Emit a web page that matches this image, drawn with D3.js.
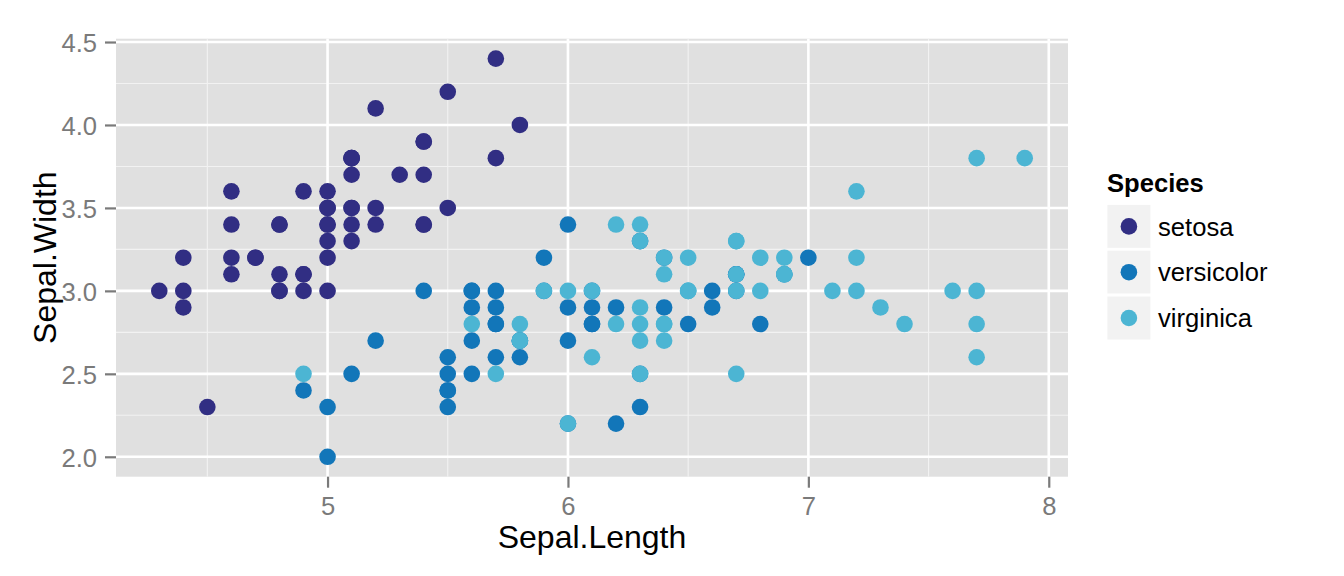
<!DOCTYPE html>
<html>
<head>
<meta charset="utf-8">
<script src="https://cdn.jsdelivr.net/npm/d3@7"></script>
<style>
  html, body { margin: 0; padding: 0; background: #ffffff; }
  svg { display: block; font-family: "Liberation Sans", Arial, Helvetica, sans-serif; }
</style>
</head>
<body>
<svg id="chart" width="1344" height="576"></svg>
<script>
// ---- Data (iris: Sepal.Length / Sepal.Width) ----
const species = ["setosa", "versicolor", "virginica"];
const speciesColors = ["#312E83", "#1276B9", "#4CB5D3"];

const setosaLength = [5.1,4.9,4.7,4.6,5.0,5.4,4.6,5.0,4.4,4.9,5.4,4.8,4.8,4.3,5.8,5.7,5.4,5.1,5.7,5.1,5.4,5.1,4.6,5.1,4.8,5.0,5.0,5.2,5.2,4.7,4.8,5.4,5.2,5.5,4.9,5.0,5.5,4.9,4.4,5.1,5.0,4.5,4.4,5.0,5.1,4.8,5.1,4.6,5.3,5.0];
const setosaWidth  = [3.5,3.0,3.2,3.1,3.6,3.9,3.4,3.4,2.9,3.1,3.7,3.4,3.0,3.0,4.0,4.4,3.9,3.5,3.8,3.8,3.4,3.7,3.6,3.3,3.4,3.0,3.4,3.5,3.4,3.2,3.1,3.4,4.1,4.2,3.1,3.2,3.5,3.6,3.0,3.4,3.5,2.3,3.2,3.5,3.8,3.0,3.8,3.2,3.7,3.3];

const versicolorLength = [7.0,6.4,6.9,5.5,6.5,5.7,6.3,4.9,6.6,5.2,5.0,5.9,6.0,6.1,5.6,6.7,5.6,5.8,6.2,5.6,5.9,6.1,6.3,6.1,6.4,6.6,6.8,6.7,6.0,5.7,5.5,5.5,5.8,6.0,5.4,6.0,6.7,6.3,5.6,5.5,5.5,6.1,5.8,5.0,5.6,5.7,5.7,6.2,5.1,5.7];
const versicolorWidth  = [3.2,3.2,3.1,2.3,2.8,2.8,3.3,2.4,2.9,2.7,2.0,3.0,2.2,2.9,2.9,3.1,3.0,2.7,2.2,2.5,3.2,2.8,2.5,2.8,2.9,3.0,2.8,3.0,2.9,2.6,2.4,2.4,2.7,2.7,3.0,3.4,3.1,2.3,3.0,2.5,2.6,3.0,2.6,2.3,2.7,3.0,2.9,2.9,2.5,2.8];

const virginicaLength = [6.3,5.8,7.1,6.3,6.5,7.6,4.9,7.3,6.7,7.2,6.5,6.4,6.8,5.7,5.8,6.4,6.5,7.7,7.7,6.0,6.9,5.6,7.7,6.3,6.7,7.2,6.2,6.1,6.4,7.2,7.4,7.9,6.4,6.3,6.1,7.7,6.3,6.4,6.0,6.9,6.7,6.9,5.8,6.8,6.7,6.7,6.3,6.5,6.2,5.9];
const virginicaWidth  = [3.3,2.7,3.0,2.9,3.0,3.0,2.5,2.9,2.5,3.6,3.2,2.7,3.0,2.5,2.8,3.2,3.0,3.8,2.6,2.2,3.2,2.8,2.8,2.7,3.3,3.2,2.8,3.0,2.8,3.0,2.8,3.8,2.8,2.8,2.6,3.0,3.4,3.1,3.0,3.1,3.1,3.1,2.7,3.2,3.3,3.0,2.5,3.0,3.4,3.0];

const xTicks = [5, 6, 7, 8];
const xMinorTicks = [4.5, 5.5, 6.5, 7.5];
const yTicks = [2.0, 2.5, 3.0, 3.5, 4.0, 4.5];
const yMinorTicks = [2.25, 2.75, 3.25, 3.75, 4.25];
const xTitle = "Sepal.Length";
const yTitle = "Sepal.Width";
const legendTitle = "Species";

// ---- Build table ----
const lengths = [setosaLength, versicolorLength, virginicaLength];
const widths = [setosaWidth, versicolorWidth, virginicaWidth];
const points = [];
species.forEach((s, i) => {
  lengths[i].forEach((v, j) => points.push({ species: s, x: v, y: widths[i][j] }));
});

// ---- Layout ----
const panel = { left: 116, right: 1068, top: 38.7, bottom: 476.7 };
const svg = d3.select("#chart");

const xExt = d3.extent(points, d => d.x);
const yExt = d3.extent(points, d => d.y);
const xPad = (xExt[1] - xExt[0]) * 0.05;
const yPad = (yExt[1] - yExt[0]) * 0.05;

const x = d3.scaleLinear().domain([xExt[0] - xPad, xExt[1] + xPad]).range([panel.left, panel.right]);
const y = d3.scaleLinear().domain([yExt[0] - yPad, yExt[1] + yPad]).range([panel.bottom, panel.top]);
const color = d3.scaleOrdinal().domain(species).range(speciesColors);

// Panel background
svg.append("rect")
  .attr("x", panel.left).attr("y", panel.top)
  .attr("width", panel.right - panel.left).attr("height", panel.bottom - panel.top)
  .attr("fill", "#E0E0E0");

const grid = svg.append("g");
// Minor grid
grid.selectAll(".xminor").data(xMinorTicks.filter(t => x(t) > panel.left)).join("line")
  .attr("x1", d => x(d)).attr("x2", d => x(d))
  .attr("y1", panel.top).attr("y2", panel.bottom)
  .attr("stroke", "#F2F2F2").attr("stroke-width", 1.1);
grid.selectAll(".yminor").data(yMinorTicks).join("line")
  .attr("y1", d => y(d)).attr("y2", d => y(d))
  .attr("x1", panel.left).attr("x2", panel.right)
  .attr("stroke", "#F2F2F2").attr("stroke-width", 1.1);
// Major grid
grid.selectAll(".xmajor").data(xTicks).join("line")
  .attr("x1", d => x(d)).attr("x2", d => x(d))
  .attr("y1", panel.top).attr("y2", panel.bottom)
  .attr("stroke", "#FFFFFF").attr("stroke-width", 2.6);
grid.selectAll(".ymajor").data(yTicks).join("line")
  .attr("y1", d => y(d)).attr("y2", d => y(d))
  .attr("x1", panel.left).attr("x2", panel.right)
  .attr("stroke", "#FFFFFF").attr("stroke-width", 2.6);

// Axes
const tickColor = "#7A7A7A";
const xAxis = svg.append("g")
  .attr("transform", `translate(0,${panel.bottom})`)
  .call(d3.axisBottom(x).tickValues(xTicks).tickFormat(d3.format("d")).tickSize(11).tickPadding(9));
const yAxis = svg.append("g")
  .attr("transform", `translate(${panel.left},0)`)
  .call(d3.axisLeft(y).tickValues(yTicks).tickFormat(d3.format(".1f")).tickSize(11).tickPadding(8));
[xAxis, yAxis].forEach(a => {
  a.select(".domain").remove();
  a.selectAll(".tick line").attr("stroke", tickColor).attr("stroke-width", 2.2);
  a.selectAll(".tick text").attr("fill", tickColor)
    .style("font-size", "25.6px")
    .style("font-family", "'Liberation Sans', Arial, sans-serif");
});
yAxis.selectAll(".tick text").attr("dy", "0.36em");
xAxis.selectAll(".tick text").attr("dy", "0.72em");

// Points
svg.append("g").selectAll("circle").data(points).join("circle")
  .attr("cx", d => x(d.x)).attr("cy", d => y(d.y))
  .attr("r", 8.3)
  .attr("fill", d => color(d.species));

// Axis titles
svg.append("text")
  .attr("x", (panel.left + panel.right) / 2).attr("y", 548)
  .attr("text-anchor", "middle")
  .style("font-size", "32px").attr("fill", "#000")
  .text(xTitle);
svg.append("text")
  .attr("transform", `translate(55.5,${(panel.top + panel.bottom) / 2}) rotate(-90)`)
  .attr("text-anchor", "middle")
  .style("font-size", "32px").attr("fill", "#000")
  .text(yTitle);

// Legend
const legend = svg.append("g");
legend.append("text")
  .attr("x", 1107).attr("y", 192)
  .style("font-size", "25.6px").style("font-weight", "bold").attr("fill", "#000")
  .text(legendTitle);
const keySize = 45.8, keyTop = 203.5, keyLeft = 1106;
const keys = legend.selectAll(".key").data(species).join("g")
  .attr("transform", (d, i) => `translate(${keyLeft},${keyTop + i * keySize})`);
keys.append("rect")
  .attr("width", keySize).attr("height", keySize)
  .attr("fill", "#F2F2F2").attr("stroke", "#FFFFFF").attr("stroke-width", 2.8);
keys.append("circle")
  .attr("cx", keySize / 2).attr("cy", keySize / 2).attr("r", 8.3)
  .attr("fill", d => color(d));
keys.append("text")
  .attr("x", 52).attr("y", keySize / 2).attr("dy", "0.36em")
  .style("font-size", "25.6px").attr("fill", "#000")
  .text(d => d);
</script>
</body>
</html>
